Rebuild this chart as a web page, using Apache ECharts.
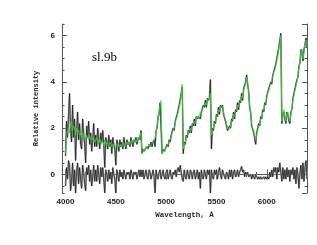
<!DOCTYPE html>
<html>
<head>
<meta charset="utf-8">
<script src="https://cdn.jsdelivr.net/npm/echarts@6/dist/echarts.min.js"></script>
<style>
html,body{margin:0;padding:0;background:#fff;}
#c{width:317px;height:245px;}
</style>
</head>
<body>
<div id="c"></div>
<script>
// Wavelength grid (Angstrom): start and step of the sampled spectrum
const lambdaStart = 4000;
const lambdaStep = 10;

// Observed spectrum (black), 4000..6400 every 10 A
const observed = [
0.8,2.3,1.6,2.6,3.5,1.9,1.4,3.0,1.6,2.4,
0.6,1.9,2.7,1.5,2.2,1.3,1.1,2.4,1.8,1.3,
0.5,2.1,1.6,2.3,1.3,1.8,1.0,1.5,2.2,1.2,
1.7,1.2,2.0,1.5,1.1,1.8,1.4,1.9,1.3,0.3,
1.6,1.4,1.1,1.7,1.2,1.5,0.9,1.6,1.3,1.1,
0.4,1.5,1.3,1.0,1.5,1.2,1.4,1.1,1.6,1.3,
1.1,1.5,1.3,1.4,1.2,1.6,1.4,1.2,1.5,1.4,
1.6,1.3,1.5,1.6,1.5,1.9,0.9,1.1,1.0,1.1,
1.1,1.2,1.1,1.3,1.2,1.4,1.2,1.4,1.5,1.2,
1.9,2.0,2.5,2.6,3.1,3.1,0.9,1.1,1.0,1.1,
1.1,1.3,1.2,1.5,1.4,1.7,1.7,2.0,1.9,2.3,
2.3,2.6,2.6,3.0,3.0,3.5,3.8,0.9,1.4,1.3,
1.7,1.6,1.9,1.8,2.1,1.8,2.2,2.1,2.4,2.1,
2.5,2.4,2.5,2.5,2.4,2.7,2.7,3.0,2.9,3.2,
2.9,3.3,3.2,3.3,4.1,1.1,2.0,1.9,2.3,2.2,
2.6,2.5,2.9,2.6,3.0,2.9,3.0,2.6,2.6,2.3,
2.3,1.9,1.9,2.1,2.0,2.4,2.3,2.7,2.4,2.8,
2.7,3.1,2.8,3.2,3.1,3.5,3.2,3.7,3.7,4.0,
4.3,3.9,3.6,2.9,2.7,2.1,2.1,1.8,1.8,1.3,
1.8,1.8,2.2,2.1,2.5,2.4,2.8,2.7,3.1,3.0,
3.4,3.4,3.7,3.7,4.0,3.9,4.3,4.3,4.6,4.6,
5.0,5.0,5.5,5.8,6.1,2.2,2.6,2.7,2.4,2.2,
2.7,2.6,2.3,2.2,2.7,2.8,3.3,3.3,3.7,3.7,
4.1,4.2,4.7,4.8,5.4,5.3,4.9,5.4,5.6,5.9,
5.5
];

// Model fit (green), 4000..6400 every 10 A
const model = [
0.9,1.5,1.9,2.0,1.8,2.2,2.3,1.9,2.1,2.0,
1.7,2.0,1.8,1.9,1.7,1.8,1.6,1.8,1.6,1.7,
1.5,1.7,1.6,1.5,1.7,1.5,1.6,1.5,1.6,1.4,
1.5,1.6,1.4,1.5,1.4,1.5,1.3,1.4,1.3,1.5,
1.3,1.4,1.3,1.2,1.4,1.3,1.2,1.3,1.2,1.3,
1.2,1.3,1.2,1.3,1.2,1.3,1.2,1.4,1.3,1.2,
1.3,1.4,1.3,1.4,1.3,1.4,1.5,1.4,1.5,1.4,
1.5,1.4,1.6,1.5,1.7,1.8,0.9,1.0,1.1,1.0,
1.2,1.1,1.2,1.3,1.2,1.3,1.3,1.4,1.4,1.6,
1.8,2.1,2.4,2.7,3.0,3.2,0.9,1.0,1.1,1.0,
1.2,1.2,1.3,1.4,1.5,1.6,1.8,1.9,2.0,2.2,
2.4,2.5,2.7,2.9,3.1,3.4,3.9,1.1,1.3,1.4,
1.6,1.7,1.8,1.9,2.0,1.9,2.1,2.2,2.3,2.2,
2.4,2.5,2.4,2.6,2.7,2.6,2.8,2.9,3.0,3.1,
3.0,3.2,3.3,3.2,3.5,1.7,1.9,2.0,2.2,2.3,
2.5,2.6,2.8,2.7,2.9,3.0,2.9,2.7,2.5,2.4,
2.2,2.0,1.9,2.0,2.1,2.3,2.4,2.6,2.5,2.7,
2.8,3.0,2.9,3.1,3.2,3.4,3.3,3.6,3.8,3.9,
4.2,4.0,3.5,3.0,2.6,2.2,2.0,1.9,1.7,1.5,
1.7,1.9,2.1,2.2,2.4,2.5,2.7,2.8,3.0,3.1,
3.3,3.5,3.6,3.8,3.9,4.1,4.2,4.4,4.5,4.7,
4.9,5.1,5.4,5.7,6.0,2.3,2.5,2.8,2.5,2.3,
2.6,2.7,2.4,2.3,2.6,2.9,3.2,3.4,3.6,3.8,
4.0,4.3,4.6,4.9,5.3,5.4,5.0,5.3,5.7,5.8,
5.6
];

// Residuals (observed - model), 4000..6400 every 10 A
const residual = [
-0.5,0.3,-0.2,0.6,0.4,-0.7,-0.3,0.5,-0.5,0.2,
-0.8,0.1,0.5,-0.4,0.3,-0.2,-0.6,0.4,0.1,-0.4,
-0.7,0.3,0.0,0.4,-0.3,0.2,-0.5,-0.1,0.4,-0.3,
0.2,-0.3,0.4,0.0,-0.4,0.3,-0.1,0.3,-0.2,-0.8,
0.2,0.0,-0.3,0.2,-0.2,0.1,-0.4,0.3,0.0,-0.2,
-0.8,0.2,0.0,-0.3,0.2,-0.1,0.1,-0.2,0.2,0.0,
-0.2,0.1,0.0,0.1,-0.2,0.2,0.0,-0.2,0.1,0.0,
0.1,-0.2,0.0,0.2,-0.1,0.2,-0.1,0.2,-0.2,0.0,
0.2,-0.1,-0.2,0.2,0.1,-0.2,0.0,0.2,-0.1,-0.8,
0.2,-0.1,-0.2,0.1,0.2,-0.2,0.0,0.2,-0.1,-0.2,
0.1,0.2,-0.2,0.0,0.2,-0.1,-0.2,0.1,0.0,0.2,
-0.1,0.2,0.3,0.1,0.4,0.1,-0.2,-0.3,0.2,-0.1,
-0.2,0.2,0.0,-0.2,0.2,0.1,-0.2,0.1,0.2,-0.2,
0.0,0.2,-0.2,0.1,-0.6,0.2,-0.1,-0.2,0.2,0.0,
-0.2,0.2,0.0,0.2,-0.8,0.2,-0.1,-0.2,0.2,0.0,
0.2,-0.2,0.1,0.3,0.0,-0.2,0.2,0.2,-0.1,-0.2,
0.1,0.0,-0.2,0.2,-0.1,0.2,-0.2,0.1,0.2,-0.1,
0.0,0.2,-0.1,0.1,0.2,0.35,0.1,0.2,-0.1,0.1,
0.0,0.1,-0.1,-0.1,0.0,-0.2,0.0,-0.1,-0.2,0.0,
-0.1,-0.2,-0.1,-0.2,-0.1,-0.2,-0.2,-0.1,-0.2,-0.1,
-0.2,-0.1,-0.2,0.1,-0.1,0.2,-0.1,0.3,0.1,0.3,
-0.2,0.3,0.1,0.5,0.1,-0.3,0.3,-0.2,0.2,-0.2,
0.3,-0.1,0.2,-0.3,0.2,0.0,0.3,-0.2,0.2,-0.4,
0.3,0.0,-0.6,0.1,0.4,-0.2,0.5,-0.3,0.3,0.6,
-0.2
];

const xTickLabels = ['4000','4500','5000','5500','6000'];
const yTickLabels = ['0','2','4','6'];
const titleText = 'sl.9b';
const xName = 'Wavelength, Å';
const yName = 'Relative intensity';

function pairs(arr){ return arr.map((v,i)=>[lambdaStart + i*lambdaStep, v]); }

const chart = echarts.init(document.getElementById('c'), null, {renderer:'canvas'});
const frame = '#555';
const lblColor = '#222';
const xMin = 3965, xMax = 6400, yMin = -0.8, yMax = 6.5;

function xAx(pos, major, show){
  return {
    type:'value', min:xMin, max:xMax, position:pos,
    splitNumber: major ? 5 : 24,
    axisLine:{show:major, lineStyle:{color:frame, width:1}},
    axisTick:{show:true, inside:true, length: major ? 5 : 2.5, lineStyle:{color:frame, width:1}},
    axisLabel:{show:show, showMinLabel:false, showMaxLabel:false, margin:5,
      fontSize:8, fontWeight:'bold', fontFamily:'Liberation Sans', color:lblColor,
      formatter:(v)=> xTickLabels.indexOf(String(v))>=0 ? String(v) : ''},
    splitLine:{show:false},
    name: show ? xName : '', nameLocation:'middle', nameGap:16,
    nameTextStyle:{fontSize:7.5, fontWeight:'bold', fontFamily:'Liberation Mono', color:lblColor}
  };
}
function yAx(pos, major, show){
  return {
    type:'value', min:yMin, max:yMax, position:pos,
    splitNumber: major ? 4 : 15,
    axisLine:{show:major, lineStyle:{color:frame, width:1}},
    axisTick:{show:true, inside:true, length: major ? 5 : 2.5, lineStyle:{color:frame, width:1}},
    axisLabel:{show:show, showMinLabel:false, showMaxLabel:false, margin:7,
      fontSize:8, fontWeight:'bold', fontFamily:'Liberation Sans', color:lblColor,
      formatter:(v)=> yTickLabels.indexOf(String(v))>=0 ? String(v) : ''},
    splitLine:{show:false},
    name: show ? yName : '', nameLocation:'middle', nameGap:21, nameRotate:90,
    nameTextStyle:{fontSize:7, fontWeight:'bold', fontFamily:'Liberation Mono', color:lblColor}
  };
}

const lineBase = {type:'line', showSymbol:false, symbol:'none', animation:false, xAxisIndex:0, yAxisIndex:0, clip:true, silent:true};

chart.setOption({
  animation:false,
  backgroundColor:'#fff',
  grid:{left:62, right:10, top:24, bottom:52, containLabel:false},
  title:{text:titleText, left:87, top:46, textStyle:{fontSize:13, fontWeight:'normal', fontFamily:'Liberation Serif', color:'#000'}},
  xAxis:[xAx('bottom',true,true), xAx('bottom',false,false), xAx('top',true,false), xAx('top',false,false)],
  yAxis:[yAx('left',true,true), yAx('left',false,false), yAx('right',true,false), yAx('right',false,false)],
  series:[
    Object.assign({}, lineBase, {data:pairs(residual), lineStyle:{color:'#aaaaaa', width:1.8}, z:1}),
    Object.assign({}, lineBase, {data:pairs(residual), lineStyle:{color:'#111', width:0.7}, z:2}),
    Object.assign({}, lineBase, {data:pairs(observed), lineStyle:{color:'#aaaaaa', width:1.8}, z:1}),
    Object.assign({}, lineBase, {data:pairs(observed), lineStyle:{color:'#111', width:0.7}, z:2}),
    Object.assign({}, lineBase, {data:pairs(model), lineStyle:{color:'#33dd33', width:0.8}, z:3})
  ]
});
</script>
</body>
</html>
